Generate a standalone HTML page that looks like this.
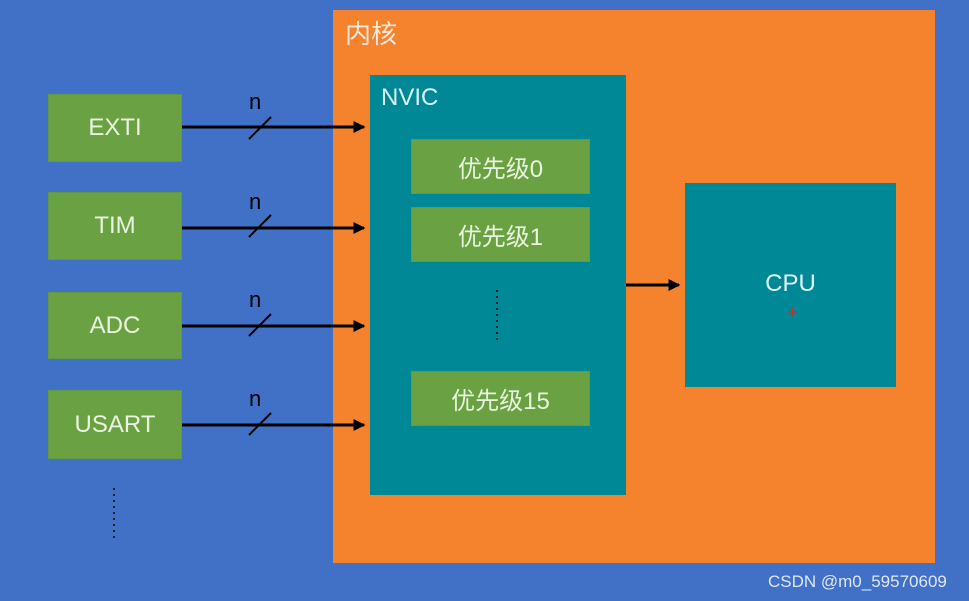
<!DOCTYPE html>
<html><head><meta charset="utf-8"><style>
body{margin:0;width:969px;height:601px;background:#4171c6;position:relative;overflow:hidden;font-family:"Liberation Sans","Noto Sans CJK SC",sans-serif}
.a{position:absolute;box-sizing:border-box}
.g{background:#6aa142;color:#e9f4de;font-size:24px;display:flex;align-items:center;justify-content:center;border:1px solid #5f9a45}
</style></head><body>
<div class="a" style="left:333px;top:10px;width:602px;height:553px;background:#f5832e"></div>
<div class="a" style="left:345px;top:14px;color:#fbe8d8;font-size:26px">内核</div>
<div class="a" style="left:370px;top:75px;width:256px;height:420px;background:#008896"></div>
<div class="a" style="left:381px;top:84px;color:#d8f4f6;font-size:24px">NVIC</div>
<div class="a" style="left:685px;top:183px;width:211px;height:204px;background:#008896"></div>
<div class="a" style="left:685px;top:270px;width:211px;text-align:center;color:#e0f6f8;font-size:24px">CPU</div>
<div class="a" style="left:787px;top:302px;color:#e02020;font-size:18px">+</div>
<div class="a g" style="left:48px;top:94px;width:134px;height:68px">EXTI</div>
<div class="a g" style="left:48px;top:192px;width:134px;height:68px">TIM</div>
<div class="a g" style="left:48px;top:292px;width:134px;height:67px">ADC</div>
<div class="a g" style="left:48px;top:390px;width:134px;height:69px">USART</div>
<div class="a g" style="left:411px;top:139px;width:179px;height:55px">优先级0</div>
<div class="a g" style="left:411px;top:207px;width:179px;height:55px">优先级1</div>
<div class="a g" style="left:411px;top:371px;width:179px;height:55px">优先级15</div>
<svg class="a" style="left:0;top:0" width="969" height="601">
<defs><marker id="m" markerWidth="4" markerHeight="4" refX="3.5" refY="2" orient="auto"><path d="M0,0L4,2L0,4z" fill="#000"/></marker></defs>
<g stroke="#000" stroke-width="3" fill="none">
<line x1="182" y1="127" x2="364" y2="127" marker-end="url(#m)"/>
<line x1="182" y1="228" x2="364" y2="228" marker-end="url(#m)"/>
<line x1="182" y1="326" x2="364" y2="326" marker-end="url(#m)"/>
<line x1="182" y1="425" x2="364" y2="425" marker-end="url(#m)"/>
<line x1="626" y1="285" x2="679" y2="285" marker-end="url(#m)"/>
</g>
<g stroke="#000" stroke-width="2">
<line x1="249" y1="139" x2="271" y2="117"/>
<line x1="249" y1="237" x2="271" y2="215"/>
<line x1="249" y1="336" x2="271" y2="314"/>
<line x1="249" y1="435" x2="271" y2="413"/>
</g>
<g fill="#000" font-family="Liberation Sans" font-size="22">
<text x="249" y="109">n</text><text x="249" y="209">n</text><text x="249" y="307">n</text><text x="249" y="406">n</text>
</g>
<line x1="497" y1="290" x2="497" y2="340" stroke="#222" stroke-width="2" stroke-dasharray="2,4"/>
<line x1="114" y1="488" x2="114" y2="538" stroke="#222" stroke-width="2" stroke-dasharray="2,4"/>
</svg>
<div class="a" style="left:768px;top:572px;color:#dfe6f3;font-size:17px">CSDN @m0_59570609</div>
</body></html>
